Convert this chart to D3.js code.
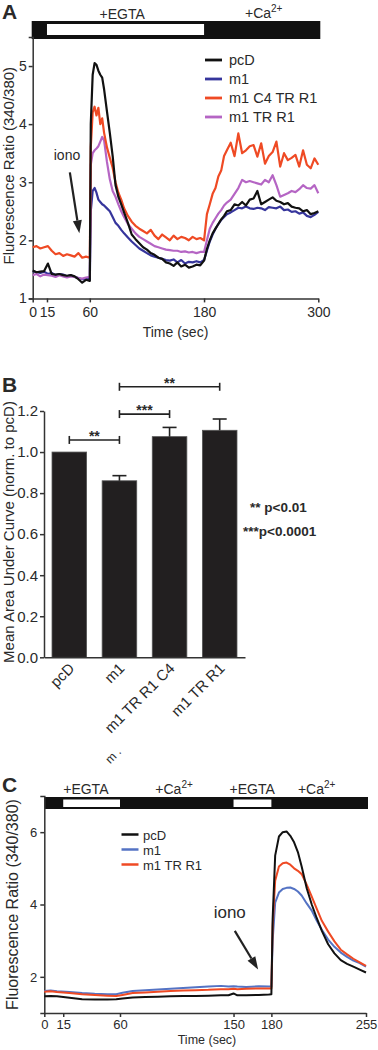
<!DOCTYPE html>
<html>
<head>
<meta charset="utf-8">
<script src="https://cdn.jsdelivr.net/npm/d3@7"></script>
<style>
  body { margin: 0; background: #fff; }
  svg text { font-family: "Liberation Sans", Arial, sans-serif; fill: #2a2a2a; }
</style>
</head>
<body>
<div id="chart"></div>
<script>
// ---------- panel A data ----------
const aTime = [0,4,8,12,16,20,24,28,32,36,40,44,48,52,56,60,
  61,63,65,67,69,71,73,75,78,81,84,87,90,93,96,100,
  104,108,112,116,120,124,128,132,136,140,144,148,152,156,160,164,168,172,176,180,
  183,186,189,192,195,198,201,204,
  208,212,216,220,224,228,232,236,240,244,248,252,256,260,264,268,272,276,280,284,288,292,296,300];
const aPcD = [1.48,1.45,1.46,1.47,1.60,1.42,1.41,1.42,1.40,1.39,1.40,1.38,1.33,1.27,1.32,1.30,
  4.0,4.85,5.05,5.02,4.92,4.85,4.8,4.6,4.22,3.85,3.45,2.95,2.75,2.62,2.48,2.3,
  2.1,2.02,1.95,1.88,1.84,1.78,1.75,1.70,1.68,1.62,1.60,1.56,1.62,1.55,1.58,1.53,1.55,1.58,1.57,1.65,
  1.85,2.0,2.12,2.2,2.28,2.36,2.42,2.5,
  2.52,2.62,2.6,2.66,2.6,2.7,2.72,2.85,2.62,2.66,2.7,2.74,2.68,2.66,2.62,2.64,2.58,2.56,2.55,2.5,2.52,2.45,2.47,2.5];
const aM1 = [1.47,1.45,1.44,1.46,1.42,1.44,1.40,1.42,1.41,1.38,1.40,1.37,1.35,1.33,1.34,1.32,
  2.5,2.85,2.9,2.82,2.7,2.66,2.62,2.6,2.55,2.5,2.4,2.3,2.25,2.18,2.12,2.05,
  1.98,1.92,1.86,1.82,1.78,1.74,1.72,1.70,1.68,1.66,1.65,1.67,1.62,1.66,1.60,1.63,1.62,1.64,1.62,1.66,
  1.82,1.98,2.1,2.2,2.28,2.35,2.4,2.45,
  2.48,2.52,2.56,2.55,2.58,2.55,2.54,2.56,2.55,2.52,2.57,2.56,2.55,2.58,2.52,2.53,2.49,2.50,2.46,2.48,2.42,2.40,2.44,2.49];
const aC4 = [1.88,1.90,1.86,1.88,1.90,1.82,1.76,1.78,1.73,1.76,1.74,1.72,1.78,1.70,1.72,1.70,
  3.6,4.2,4.3,4.15,4.28,4.0,4.1,3.85,3.6,3.42,3.25,3.0,2.82,2.7,2.55,2.42,
  2.32,2.25,2.2,2.16,2.12,2.18,2.08,2.02,2.1,2.05,2.0,2.08,2.02,2.06,2.04,2.0,2.06,2.02,2.04,2.0,
  2.45,2.62,2.8,2.9,3.1,3.2,3.45,3.55,
  3.68,3.45,3.84,3.5,3.55,3.62,3.64,3.44,3.67,3.32,3.45,3.52,3.70,3.27,3.5,3.38,3.42,3.47,3.27,3.55,3.3,3.24,3.41,3.3];
const aTR = [1.40,1.42,1.38,1.41,1.40,1.39,1.37,1.40,1.38,1.36,1.38,1.37,1.35,1.34,1.36,1.37,
  3.3,3.5,3.55,3.58,3.62,3.7,3.78,3.72,3.35,3.05,2.85,2.75,2.62,2.5,2.4,2.28,
  2.2,2.12,2.06,2.02,1.98,1.94,1.9,1.88,1.86,1.84,1.83,1.82,1.82,1.80,1.81,1.79,1.80,1.78,1.80,1.80,
  2.0,2.2,2.3,2.38,2.46,2.52,2.6,2.65,
  2.7,2.8,2.9,3.04,3.0,3.02,3.0,2.98,2.96,3.04,3.0,3.12,2.95,2.75,2.78,2.81,2.85,2.83,2.88,2.95,2.9,2.89,2.95,2.81];
const aNames = ["pcD", "m1", "m1 C4 TR R1", "m1 TR R1"];
const aColors = ["#111111", "#36359c", "#ef4a24", "#b565c4"];
const aXTicks = [0, 15, 60, 180, 300];
const aYTicks = [1, 2, 3, 4, 5];

// ---------- panel B data ----------
const bNames = ["pcD", "m1", "m1 TR R1 C4", "m1 TR R1"];
const bMeans = [1.0, 0.86, 1.075, 1.106];
const bErrs = [0, 0.025, 0.045, 0.055];
const bYTicks = [0, 0.2, 0.4, 0.6, 0.8, 1.0, 1.2];
const bSig = [
  { from: "pcD", to: "m1", level: 1.059, label: "**" },
  { from: "m1", to: "m1 TR R1 C4", level: 1.185, label: "***" },
  { from: "m1", to: "m1 TR R1", level: 1.318, label: "**" }
];

// ---------- panel C data ----------
const cTime = [0,5,10,20,30,40,50,57,62,70,80,90,100,110,120,130,140,146,150,153,
  160,170,178,180,181,183,186,189,192,195,198,201,204,208,212,216,220,225,230,235,240,245,250,255];
const cPcD = [1.46,1.47,1.46,1.42,1.38,1.37,1.37,1.38,1.40,1.43,1.44,1.45,1.46,1.47,1.47,1.48,1.49,1.49,1.54,1.49,
  1.49,1.50,1.51,1.52,3.6,5.35,5.88,6.0,6.02,5.9,5.72,5.45,5.05,4.45,4.0,3.62,3.27,2.9,2.65,2.46,2.36,2.28,2.2,2.12];
const cM1 = [1.61,1.62,1.60,1.58,1.55,1.53,1.52,1.52,1.56,1.61,1.63,1.65,1.67,1.69,1.71,1.73,1.75,1.73,1.74,1.73,
  1.72,1.74,1.73,1.73,3.0,4.05,4.33,4.43,4.46,4.47,4.43,4.36,4.25,4.03,3.83,3.55,3.3,3.03,2.83,2.67,2.55,2.45,2.38,2.28];
const cTR = [1.59,1.60,1.58,1.55,1.52,1.50,1.48,1.47,1.50,1.55,1.57,1.59,1.61,1.62,1.63,1.64,1.66,1.66,1.67,1.66,
  1.67,1.68,1.68,1.68,3.4,4.66,5.05,5.14,5.16,5.1,5.0,4.93,4.84,4.55,4.22,3.88,3.55,3.25,2.98,2.75,2.62,2.5,2.4,2.3];
const cNames = ["pcD", "m1", "m1 TR R1"];
const cColors = ["#111111", "#5473c4", "#ef4a24"];
const cXTicks = [0, 15, 60, 150, 180, 255];
const cYTicks = [2, 4, 6];

const width = 378, height = 1050;
const svg = d3.select("#chart").append("svg")
  .attr("width", width).attr("height", height);

function styleAxis(g) {
  g.select(".domain").attr("stroke", "#333").attr("stroke-width", 1.5);
  g.selectAll(".tick line").attr("stroke", "#333").attr("stroke-width", 1.5);
  g.selectAll(".tick text").attr("fill", "#2a2a2a").style("font-family", "Liberation Sans, Arial, sans-serif");
}

function arrow(g, x1, y1, x2, y2) {
  const ang = Math.atan2(y2 - y1, x2 - x1);
  const len = 13, half = 4.5;
  const bx = x2 - len * Math.cos(ang), by = y2 - len * Math.sin(ang);
  g.append("line").attr("x1", x1).attr("y1", y1).attr("x2", bx).attr("y2", by)
    .attr("stroke", "#222").attr("stroke-width", 2.2);
  g.append("polygon")
    .attr("points", [[x2, y2],
      [bx + half * Math.sin(ang), by - half * Math.cos(ang)],
      [bx - half * Math.sin(ang), by + half * Math.cos(ang)]].map(p => p.join(",")).join(" "))
    .attr("fill", "#222");
}

function panelLabel(txt, y) {
  svg.append("text").attr("x", 2).attr("y", y).text(txt)
    .style("font-size", "21px").style("font-weight", "bold").attr("fill", "#222");
}

// ================= panel A =================
const xA = d3.scaleLinear().domain([0, 300]).range([32.7, 318.3]);
const yA = d3.scaleLinear().domain([1, 5.5]).range([298.4, 37]);
const gA = svg.append("g");

panelLabel("A", 19);

// treatment bar
gA.append("rect").attr("x", xA(0) - 1).attr("y", 21).attr("width", xA(300) - xA(0) + 3).attr("height", 18).attr("fill", "#111");
gA.append("rect").attr("x", xA(15)).attr("y", 24).attr("width", xA(180) - xA(15)).attr("height", 11).attr("fill", "#fff");
gA.append("text").attr("x", xA(94)).attr("y", 19).attr("text-anchor", "middle").style("font-size", "14px").text("+EGTA");
gA.append("text").attr("x", xA(223)).attr("y", 18).style("font-size", "14px")
  .text("+Ca").append("tspan").attr("dy", -6).style("font-size", "10px").text("2+");

const axA = gA.append("g").attr("transform", `translate(${xA(0)},0)`)
  .call(d3.axisLeft(yA).tickValues(aYTicks).tickFormat(d3.format("d")).tickSize(4).tickSizeOuter(4).tickPadding(2));
axA.selectAll(".tick text").style("font-size", "14px");
styleAxis(axA);
const axAx = gA.append("g").attr("transform", `translate(0,${yA(1)})`)
  .call(d3.axisBottom(xA).tickValues(aXTicks).tickSize(4).tickSizeOuter(0).tickPadding(5));
axAx.selectAll(".tick text").style("font-size", "14px");
styleAxis(axAx);

gA.append("text").attr("transform", `translate(14,${(yA(1) + yA(5.5)) / 2 - 2}) rotate(-90)`)
  .attr("text-anchor", "middle").style("font-size", "15px").text("Fluorescence Ratio (340/380)");
gA.append("text").attr("x", xA(150)).attr("y", 337).attr("text-anchor", "middle")
  .style("font-size", "14px").text("Time (sec)");

const lineA = d3.line().x((d, i) => xA(aTime[i])).y(d => yA(d));
[aM1, aTR, aC4, aPcD].forEach(s => {
  const idx = [aPcD, aM1, aC4, aTR].indexOf(s);
  gA.append("path").datum(s).attr("fill", "none").attr("stroke", aColors[idx])
    .attr("stroke-width", 2.2).attr("stroke-linejoin", "round").attr("d", lineA);
});

// legend A
aNames.forEach((n, i) => {
  const ly = 60 + i * 19;
  gA.append("line").attr("x1", 205).attr("x2", 222).attr("y1", ly).attr("y2", ly)
    .attr("stroke", aColors[i]).attr("stroke-width", 2.8);
  gA.append("text").attr("x", 229).attr("y", ly + 5).style("font-size", "14.5px").text(n);
});

gA.append("text").attr("x", xA(36)).attr("y", yA(3.38)).attr("text-anchor", "middle")
  .style("font-size", "14px").text("iono");
arrow(gA, xA(39), yA(3.17), xA(49), yA(2.12));

// ================= panel B =================
const xB = d3.scaleBand().domain(bNames).range([44, 245]).paddingInner(0.31).paddingOuter(0.16);
const yB = d3.scaleLinear().domain([0, 1.2]).range([657.3, 411]);
const gB = svg.append("g");

panelLabel("B", 392);

gB.selectAll("rect.bar").data(bMeans).join("rect").attr("class", "bar")
  .attr("x", (d, i) => xB(bNames[i])).attr("width", xB.bandwidth())
  .attr("y", d => yB(d)).attr("height", d => yB(0) - yB(d))
  .attr("fill", "#221f20").attr("stroke", "#555").attr("stroke-width", 0.8);

bMeans.forEach((m, i) => {
  if (!bErrs[i]) return;
  const cx = xB(bNames[i]) + xB.bandwidth() / 2;
  gB.append("line").attr("x1", cx).attr("x2", cx).attr("y1", yB(m)).attr("y2", yB(m + bErrs[i]))
    .attr("stroke", "#222").attr("stroke-width", 1.6);
  gB.append("line").attr("x1", cx - 7).attr("x2", cx + 7).attr("y1", yB(m + bErrs[i])).attr("y2", yB(m + bErrs[i]))
    .attr("stroke", "#222").attr("stroke-width", 1.6);
});

const axB = gB.append("g").attr("transform", `translate(44,0)`)
  .call(d3.axisLeft(yB).tickValues(bYTicks).tickFormat(d3.format(".1f")).tickSize(4).tickSizeOuter(0).tickPadding(2));
axB.selectAll(".tick text").style("font-size", "15px");
styleAxis(axB);
const axBx = gB.append("g").attr("transform", `translate(0,${yB(0)})`)
  .call(d3.axisBottom(xB).tickSize(0).tickSizeOuter(0).tickFormat(""));
styleAxis(axBx);

bNames.forEach(n => {
  const cx = xB(n) + xB.bandwidth() / 2;
  gB.append("text").attr("transform", `translate(${cx + 6},${yB(0) + 12}) rotate(-45)`)
    .attr("text-anchor", "end").style("font-size", "15px").text(n);
});
gB.append("text").attr("transform", `translate(${xB("m1") + 8},${yB(0) + 107}) rotate(-45)`)
  .style("font-size", "12px").attr("fill", "#777").text("m .");

bSig.forEach(s => {
  const x1 = xB(s.from) + xB.bandwidth() / 2, x2 = xB(s.to) + xB.bandwidth() / 2, y = yB(s.level);
  gB.append("line").attr("x1", x1).attr("x2", x2).attr("y1", y).attr("y2", y).attr("stroke", "#222").attr("stroke-width", 1.6);
  [x1, x2].forEach(x => gB.append("line").attr("x1", x).attr("x2", x).attr("y1", y - 4).attr("y2", y + 4)
    .attr("stroke", "#222").attr("stroke-width", 1.6));
  gB.append("text").attr("x", (x1 + x2) / 2).attr("y", y + 1).attr("text-anchor", "middle")
    .style("font-size", "14px").style("font-weight", "bold").text(s.label);
});

gB.append("text").attr("x", 250).attr("y", 512).style("font-size", "13.5px").style("font-weight", "bold").text("** p<0.01");
gB.append("text").attr("x", 243).attr("y", 536).style("font-size", "13.5px").style("font-weight", "bold").text("***p<0.0001");

gB.append("text").attr("transform", `translate(14,532) rotate(-90)`)
  .attr("text-anchor", "middle").style("font-size", "15px").text("Mean Area Under Curve (norm. to pcD)");

// ================= panel C =================
const xC = d3.scaleLinear().domain([0, 255]).range([44.3, 366]);
const yC = d3.scaleLinear().domain([1, 7]).range([1013, 796]);
const gC = svg.append("g");

panelLabel("C", 792);

gC.append("rect").attr("x", xC(0)).attr("y", 797).attr("width", 368 - xC(0)).attr("height", 12).attr("fill", "#111");
[[15, 60], [150, 180]].forEach(([a, b]) => {
  gC.append("rect").attr("x", xC(a)).attr("y", 799.5).attr("width", xC(b) - xC(a)).attr("height", 7.5).attr("fill", "#fff");
});
gC.append("text").attr("x", xC(15)).attr("y", 794).style("font-size", "14px").text("+EGTA");
gC.append("text").attr("x", xC(150) - 4).attr("y", 794).style("font-size", "14px").text("+EGTA");
[88, 201].forEach(t => {
  gC.append("text").attr("x", xC(t)).attr("y", 794).style("font-size", "14px")
    .text("+Ca").append("tspan").attr("dy", -6).style("font-size", "10px").text("2+");
});

const axC = gC.append("g").attr("transform", `translate(${xC(0)},0)`)
  .call(d3.axisLeft(yC).tickValues(cYTicks).tickFormat(d3.format("d")).tickSize(4).tickSizeOuter(4).tickPadding(3));
axC.selectAll(".tick text").style("font-size", "13px");
styleAxis(axC);
const axCx = gC.append("g").attr("transform", `translate(0,${yC(1)})`)
  .call(d3.axisBottom(xC).tickValues(cXTicks).tickSize(4).tickSizeOuter(0).tickPadding(3));
axCx.selectAll(".tick text").style("font-size", "13px");
styleAxis(axCx);

gC.append("text").attr("transform", `translate(18,${(yC(1) + yC(7)) / 2}) rotate(-90)`)
  .attr("text-anchor", "middle").style("font-size", "16px").text("Fluorescence Ratio (340/380)");
gC.append("text").attr("x", 207).attr("y", 1044).attr("text-anchor", "middle")
  .style("font-size", "12.5px").text("Time (sec)");

const lineC = d3.line().x((d, i) => xC(cTime[i])).y(d => yC(d));
[cM1, cTR, cPcD].forEach(s => {
  const idx = [cPcD, cM1, cTR].indexOf(s);
  gC.append("path").datum(s).attr("fill", "none").attr("stroke", cColors[idx])
    .attr("stroke-width", 2).attr("stroke-linejoin", "round").attr("d", lineC);
});

cNames.forEach((n, i) => {
  const ly = 834.5 + i * 15;
  gC.append("line").attr("x1", 121.5).attr("x2", 138.5).attr("y1", ly).attr("y2", ly)
    .attr("stroke", cColors[i]).attr("stroke-width", 2.5);
  gC.append("text").attr("x", 143).attr("y", ly + 5).style("font-size", "13px").text(n);
});

gC.append("text").attr("x", xC(147)).attr("y", yC(3.63)).attr("text-anchor", "middle")
  .style("font-size", "17px").text("iono");
arrow(gC, xC(151), yC(3.27), xC(169.5), yC(2.2));
</script>
</body>
</html>
